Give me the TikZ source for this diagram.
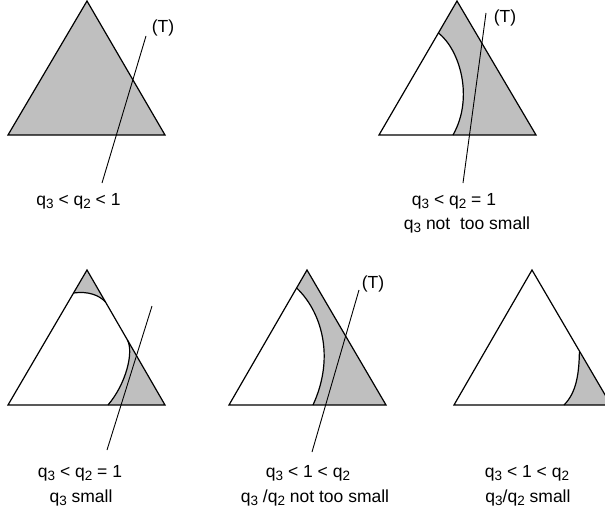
\documentclass[tikz,border=0pt]{standalone}
\usepackage{fontspec}
\setmainfont{Liberation Sans}
\definecolor{areagray}{gray}{0.75}
\newcommand{\idx}[1]{\raisebox{-0.4ex}{\fontsize{13.5}{14}\selectfont#1}}
\begin{document}
\begin{tikzpicture}[x=1pt,y=-1pt,every node/.style={font=\fontsize{17.5}{20}\selectfont,inner sep=0pt,anchor=base},edge/.style={line width=1.2pt},tline/.style={line width=0.9pt}]
\useasboundingbox (0,0) rectangle (605,511);
\clip (0,0) rectangle (605,511);
% corners
\coordinate (a1) at (87,1); \coordinate (l1) at (8,135); \coordinate (r1) at (165,135);
\coordinate (a2) at (457,1); \coordinate (l2) at (379,135); \coordinate (r2) at (536,135);
\coordinate (a3) at (87,270); \coordinate (l3) at (8,405); \coordinate (r3) at (165,405);
\coordinate (a4) at (307,270); \coordinate (l4) at (229,405); \coordinate (r4) at (386,405);
\coordinate (a5) at (532,270); \coordinate (l5) at (454,405); \coordinate (r5) at (611,405);
% ends of the curves
\coordinate (p2) at (438.5,33); \coordinate (q2) at (453,135);
\coordinate (p3) at (73.5,293); \coordinate (u3) at (105.5,302);
\coordinate (m3) at (127.4,340); \coordinate (q3) at (108,405);
\coordinate (p4) at (296.6,288); \coordinate (q4) at (313,405);
\coordinate (m5) at (579.4,352); \coordinate (q5) at (564,405);
% shaded parts
\fill[areagray] (a1) -- (l1) -- (r1) -- cycle;
\fill[areagray] (a2) -- (p2) .. controls (460,50) and (474,98) .. (q2) -- (r2) -- cycle;
\fill[areagray] (a3) -- (p3) .. controls (88,291) and (99,295) .. (u3) -- cycle;
\fill[areagray] (m3) .. controls (134,352) and (126,384) .. (q3) -- (r3) -- cycle;
\fill[areagray] (a4) -- (p4) .. controls (320,310) and (336,355) .. (q4) -- (r4) -- cycle;
\fill[areagray] (m5) .. controls (579,375) and (576,393) .. (q5) -- (r5) -- cycle;
\draw[edge] (p2) .. controls (460,50) and (474,98) .. (q2);
\draw[edge] (p3) .. controls (88,291) and (99,295) .. (u3);
\draw[edge] (m3) .. controls (134,352) and (126,384) .. (q3);
\draw[edge] (p4) .. controls (320,310) and (336,355) .. (q4);
\draw[edge] (m5) .. controls (579,375) and (576,393) .. (q5);
\foreach \i in {1,...,5}
  \draw[edge] (a\i) -- (l\i) -- (r\i) -- cycle;
% the lines (T)
\coordinate (t1a) at (146,36); \coordinate (t1b) at (102,183);
\coordinate (t2a) at (486,13); \coordinate (t2b) at (463,183);
\coordinate (t3a) at (152,306); \coordinate (t3b) at (107,450);
\coordinate (t4a) at (359,290); \coordinate (t4b) at (312,452);
\draw[tline] (t1a) -- (t1b);
\draw[tline] (t2a) -- (t2b);
\draw[tline] (t3a) -- (t3b);
\draw[tline] (t4a) -- (t4b);
\node (tl1) at (163,33) {(T)};
\node (tl2) at (505,23) {(T)};
\node (tl4) at (373,288) {(T)};
% captions
\node (c1) at (78.5,205) {q\idx{3} < q\idx{2} < 1};
\node (c2a) at (454,205) {q\idx{3} < q\idx{2} = 1};
\node (c2b) at (467,229) {q\idx{3} not\ \ too small};
\node (c3a) at (80,477) {q\idx{3} < q\idx{2} = 1};
\node (c3b) at (81,502) {q\idx{3} small};
\node (c4a) at (308,477) {q\idx{3} < 1 < q\idx{2}};
\node (c4b) at (315,502) {q\idx{3} /q\idx{2} not too small};
\node (c5a) at (527,477) {q\idx{3} < 1 < q\idx{2}};
\node (c5b) at (528,502) {q\idx{3}/q\idx{2} small};
\end{tikzpicture}
\end{document}
